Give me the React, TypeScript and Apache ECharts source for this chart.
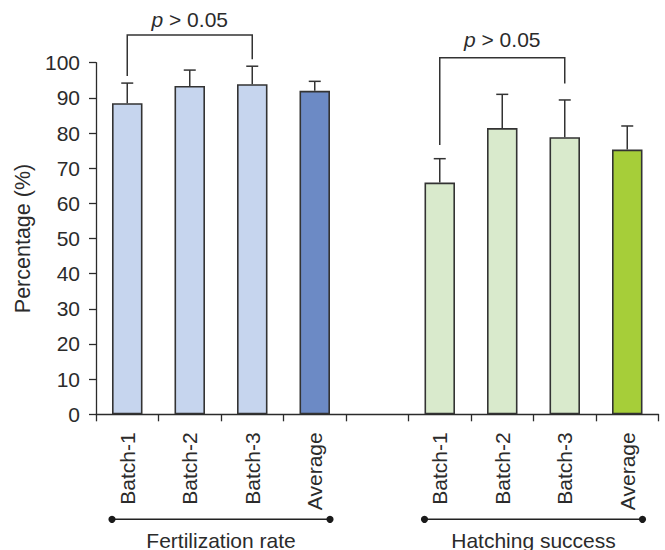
import React, { useEffect, useRef } from "react";
import * as echarts from "echarts";

const categories = ["Batch-1", "Batch-2", "Batch-3", "Average", "", "Batch-1", "Batch-2", "Batch-3", "Average"];
const meanValues: (number | null)[] = [88.5, 93.4, 93.9, 92.0, null, 65.9, 81.4, 78.8, 75.3];
const errorValues: (number | null)[] = [5.7, 4.5, 5.1, 2.7, null, 6.8, 9.6, 10.6, 6.7];
const barColors = ["#c6d5ee", "#c6d5ee", "#c6d5ee", "#6c8ac5", "#ffffff", "#d9eacc", "#d9eacc", "#d9eacc", "#a6ce39"];
const yTicks = { min: 0, max: 100, interval: 10 };
// [startCategory, endCategory, level, leftLegEnd, rightLegEnd, textLevel]
const brackets = [
  [0, 2, 107.9, 96.2, 101.0, 112.4],
  [5, 7, 101.4, 76.6, 94.1, 106.7],
];
const pLabel = "> 0.05";
const groupNames = ["Fertilization rate", "Hatching success"];
const groupSpans = [
  [0, 3],
  [5, 8],
];

const FONT = "'Liberation Sans', Arial, Helvetica, sans-serif";
const INK = "#2b2b2b";
const FS = 21;

export default function App() {
  const ref = useRef<HTMLDivElement>(null);
  useEffect(() => {
    if (!ref.current) return;
    const chart = echarts.init(ref.current, null, { renderer: "svg" });
    const barData = meanValues.map((v, i) =>
      v == null ? null : { value: v, itemStyle: { color: barColors[i] } }
    );
    const errData = meanValues
      .map((v, i) => (v == null ? null : [i, v, errorValues[i] as number]))
      .filter((d) => d != null);
    const groupData = groupSpans.map((s, i) => [s[0], s[1], i]);

    chart.setOption({
      animation: false,
      textStyle: { fontFamily: FONT },
      grid: { left: 96, top: 62.7, right: 6.5, bottom: 135.7, outerBoundsMode: "none" },
      xAxis: {
        type: "category",
        data: categories,
        boundaryGap: true,
        axisLine: { lineStyle: { color: INK, width: 1.3 } },
        axisTick: { show: true, length: 7, alignWithLabel: false, lineStyle: { color: INK, width: 1.3 } },
        axisLabel: { rotate: 90, margin: 18, fontSize: FS, color: INK, fontFamily: FONT, interval: 0 },
      },
      yAxis: {
        type: "value",
        min: yTicks.min,
        max: yTicks.max,
        interval: yTicks.interval,
        name: "Percentage (%)",
        nameLocation: "middle",
        nameRotate: 90,
        nameGap: 61,
        nameTextStyle: { fontSize: 21.5, color: INK, fontFamily: FONT },
        splitLine: { show: false },
        axisLine: { show: true, lineStyle: { color: INK, width: 1.3 } },
        axisTick: { show: true, length: 7, lineStyle: { color: INK, width: 1.3 } },
        axisLabel: { margin: 16, fontSize: FS, color: INK, fontFamily: FONT },
      },
      series: [
        {
          type: "bar",
          data: barData,
          barWidth: 30.5,
          itemStyle: { borderColor: "#333333", borderWidth: 1.6 },
        },
        {
          type: "custom",
          clip: false,
          data: errData,
          z: 5,
          renderItem: (params: any, api: any) => {
            const x = api.value(0);
            const v = api.value(1);
            const e = api.value(2);
            const p0 = api.coord([x, v]);
            const p1 = api.coord([x, v + e]);
            const st = { stroke: "#333333", lineWidth: 1.5, fill: null };
            return {
              type: "group",
              children: [
                { type: "line", shape: { x1: p0[0], y1: p0[1], x2: p1[0], y2: p1[1] }, style: st },
                { type: "line", shape: { x1: p1[0] - 6, y1: p1[1], x2: p1[0] + 6, y2: p1[1] }, style: st },
              ],
            };
          },
        },
        {
          type: "custom",
          clip: false,
          data: brackets,
          z: 5,
          renderItem: (params: any, api: any) => {
            const a = api.coord([api.value(0), api.value(2)]);
            const b = api.coord([api.value(1), api.value(2)]);
            const la = api.coord([api.value(0), api.value(3)]);
            const lb = api.coord([api.value(1), api.value(4)]);
            const t = api.coord([api.value(0), api.value(5)]);
            return {
              type: "group",
              children: [
                {
                  type: "polyline",
                  shape: { points: [[la[0], la[1]], [a[0], a[1]], [b[0], b[1]], [lb[0], lb[1]]] },
                  style: { stroke: "#333333", lineWidth: 1.5, fill: null },
                },
                {
                  type: "text",
                  x: (a[0] + b[0]) / 2,
                  y: t[1],
                  style: {
                    text: "{i|p} {n|" + pLabel + "}",
                    align: "center",
                    verticalAlign: "middle",
                    rich: {
                      i: { fontStyle: "italic", fontSize: FS, fontFamily: FONT, fill: INK },
                      n: { fontSize: FS, fontFamily: FONT, fill: INK },
                    },
                    fontSize: FS,
                    fontFamily: FONT,
                    fill: INK,
                  },
                },
              ],
            };
          },
        },
        {
          type: "custom",
          clip: false,
          data: groupData,
          z: 5,
          renderItem: (params: any, api: any) => {
            const half = api.size([1, 0])[0] * 0.244;
            const s = api.coord([api.value(0), 0]);
            const e = api.coord([api.value(1), 0]);
            const x0 = s[0] - half;
            const x1 = e[0] + half;
            const y = s[1] + 105;
            const name = groupNames[api.value(2)];
            return {
              type: "group",
              children: [
                { type: "line", shape: { x1: x0, y1: y, x2: x1, y2: y }, style: { stroke: "#222", lineWidth: 1.5 } },
                { type: "circle", shape: { cx: x0, cy: y, r: 3.6 }, style: { fill: "#1a1a1a" } },
                { type: "circle", shape: { cx: x1, cy: y, r: 3.6 }, style: { fill: "#1a1a1a" } },
                {
                  type: "text",
                  x: (x0 + x1) / 2,
                  y: s[1] + 126,
                  style: { text: name, align: "center", verticalAlign: "middle", fontSize: FS, fontFamily: FONT, fill: INK },
                },
              ],
            };
          },
        },
      ],
    });
    return () => chart.dispose();
  }, []);
  return (
    <div
      ref={ref}
      style={{ position: "fixed", left: 0, top: 0, width: 665, height: 550, background: "#ffffff" }}
    />
  );
}
